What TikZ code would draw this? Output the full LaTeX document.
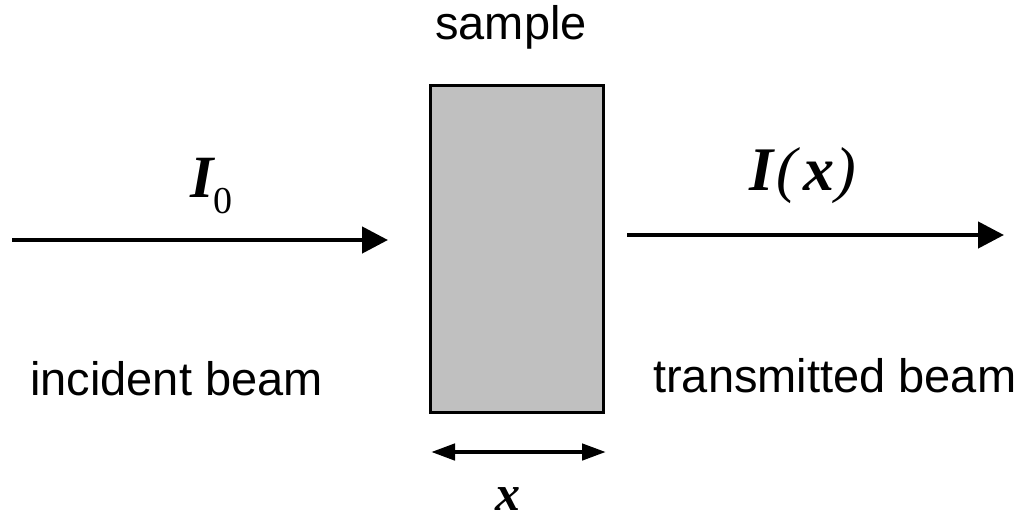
\documentclass[tikz,border=0pt]{standalone}
\usepackage{fontspec}
\usetikzlibrary{arrows.meta}
\newfontfamily\lblsans{Liberation Sans}
\newfontfamily\lblserif{Liberation Serif}
\definecolor{probe}{HTML}{C0C0C0}
\tikzset{
  strahl/.style={-{Triangle[length=26pt,width=26pt]},black,line width=4.5pt},
  breite/.style={{Triangle[length=24pt,width=16pt]}-{Triangle[length=24pt,width=16pt]},black,line width=4.5pt},
  probekoerper/.style={draw=black,fill=probe,line width=3pt,minimum width=173pt,minimum height=327pt,inner sep=0pt},
  txt/.style={inner sep=0pt,font=\lblsans\fontsize{47}{56}\selectfont},
  sym/.style={inner sep=0pt,font=\lblserif\bfseries\itshape},
}
\begin{document}
\begin{tikzpicture}[x=1pt,y=-1pt]
  \useasboundingbox (0,0) rectangle (1030,520);
  \node[probekoerper] (sample) at (517,249) {};
  \node[txt,anchor=base] (samplelbl) at (511,39) {sample};
  % einfallender und transmittierter Strahl
  \coordinate (inA) at (12,240);
  \coordinate (inB) at (388,240);
  \coordinate (outA) at (627,235);
  \coordinate (outB) at (1004,235);
  \draw[strahl] (inA) -- (inB);
  \draw[strahl] (outA) -- (outB);
  \node[sym,anchor=base west] (izero) at (190,197)
    {{\fontsize{60}{60}\selectfont I}\raisebox{-16pt}{\fontsize{38}{38}\mdseries\upshape\selectfont 0}};
  \node[sym,anchor=base west] (ix) at (749,190)
    {\fontsize{62}{62}\selectfont I\kern3pt{\mdseries(}\kern7pt x\kern1pt{\mdseries)}};
  \node[txt,anchor=base west] (inlbl) at (30,395) {incident beam};
  \node[txt,anchor=base west] (outlbl) at (653,392) {transmitted beam};
  % Dicke der Probe
  \coordinate (dA) at (431,452);
  \coordinate (dB) at (606,452);
  \draw[breite] (dA) -- (dB);
  \node[sym,anchor=base] (dlbl) at (508,510) {\fontsize{50}{50}\selectfont x};
\end{tikzpicture}
\end{document}
